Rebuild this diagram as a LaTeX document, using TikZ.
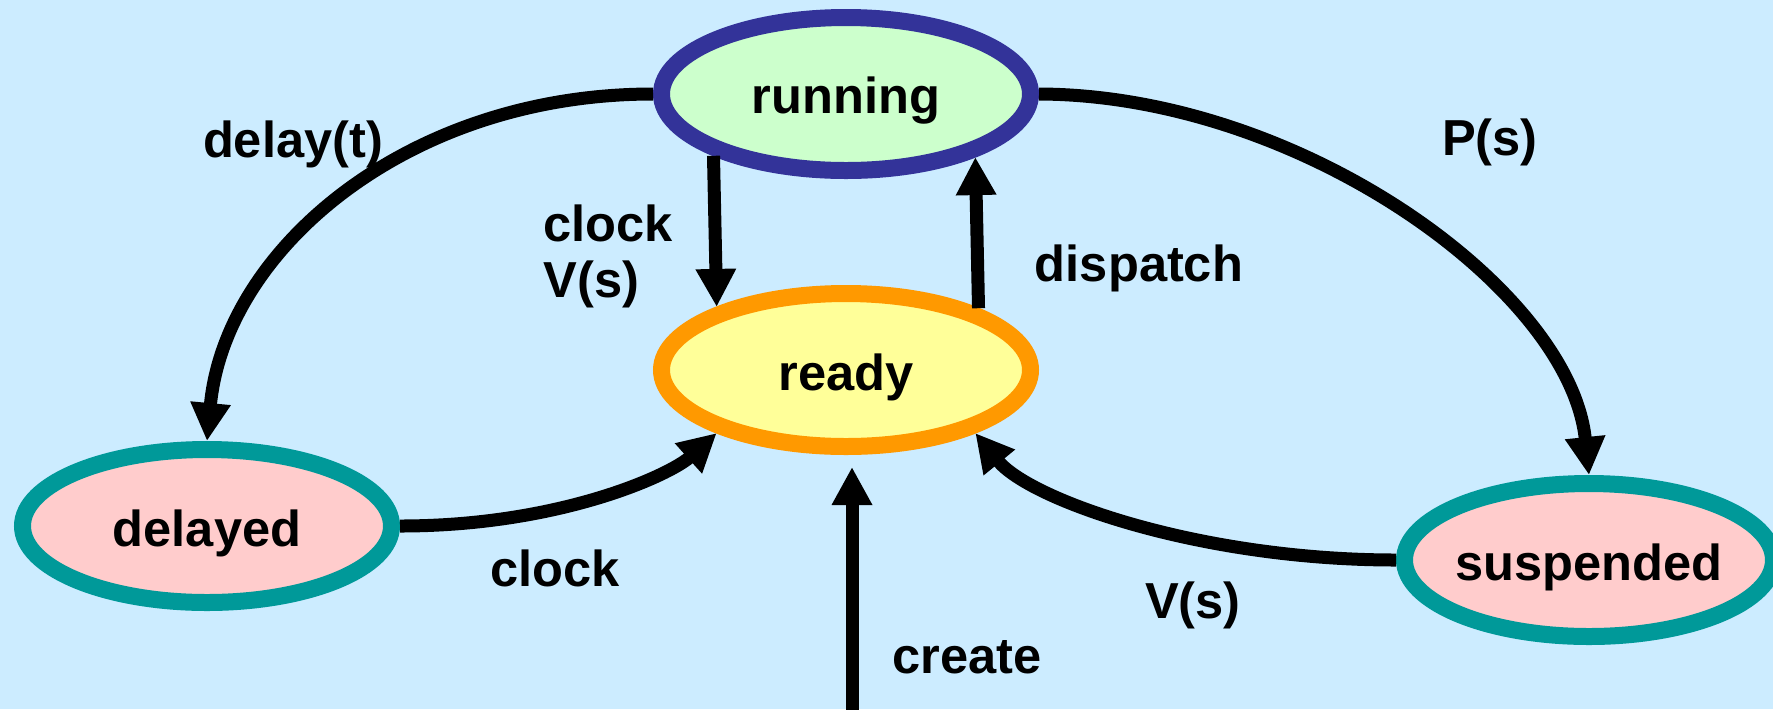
\documentclass[tikz,border=0pt]{standalone}
\usepackage{fontspec}
\setmainfont{Liberation Sans}
\usetikzlibrary{arrows.meta,shapes.geometric}

\definecolor{bgblue}{RGB}{204,236,255}
\definecolor{runfill}{RGB}{204,255,204}
\definecolor{runline}{RGB}{51,51,153}
\definecolor{readyfill}{RGB}{255,255,153}
\definecolor{readyline}{RGB}{255,153,0}
\definecolor{waitfill}{RGB}{255,204,204}
\definecolor{waitline}{RGB}{0,153,153}

% state name, centred, set a little below the middle of the ellipse
\newcommand{\statetext}[1]{\makebox[0pt]{\raisebox{-3.5pt}[\height][\depth]{#1}}}

\begin{document}
\begin{tikzpicture}[x=0.5pt,y=-0.5pt,
  lbl/.style={font=\bfseries\fontsize{25.3pt}{28pt}\selectfont, inner sep=0pt},
  state/.style={lbl, ellipse, line width=8.5pt, minimum width=184.5pt,
                minimum height=76.5pt, inner sep=0pt},
  trans/.style={line width=6.5pt, -{Triangle[length=19pt,width=19pt]}}]

  % canvas
  \fill[bgblue] (0,0) rectangle (1773,709);
  \useasboundingbox (0,0) rectangle (1773,709);

  % states
  \node[state, draw=runline, fill=runfill]     (running)   at (846,94)   {\statetext{running}};
  \node[state, draw=readyline, fill=readyfill] (ready)     at (846,370)  {\statetext{ready}};
  \node[state, draw=waitline, fill=waitfill]   (delayed)   at (207,526)  {\statetext{delayed}};
  \node[state, draw=waitline, fill=waitfill]   (suspended) at (1589,560) {\statetext{suspended}};

  % transitions
  \draw[trans] (running.west) .. controls (407,94) and (225,250) .. (delayed.north);
  \draw[trans] (running.east) .. controls (1300,95) and (1570,290) .. (suspended.north);
  \draw[trans] (running.205.8) -- (ready.154.2);
  \draw[trans] (ready.25.16) -- (running.334.84);
  \draw[trans] (delayed.east) .. controls (560,526) and (670,475) .. (ready.206);
  \draw[trans] (suspended.west) .. controls (1200,560) and (1030,500) .. (ready.334);

  \coordinate (newtask) at (852,712);
  \coordinate (newtip)  at (852,467);
  \draw[trans] (newtask) -- (newtip);

  % transition labels
  \node[lbl] (ldelay)    at (293,144)  {delay(t)};
  \node[lbl, align=left, anchor=north west] (lclockvs) at (543,204) {clock\\V(s)};
  \node[lbl] (ldispatch) at (1139,268) {dispatch};
  \node[lbl] (lps)       at (1490,142) {P(s)};
  \node[lbl] (lclock)    at (555,568)  {clock};
  \node[lbl] (lvs)       at (1193,605) {V(s)};
  \node[lbl] (lcreate)   at (967,657)  {create};
\end{tikzpicture}
\end{document}
